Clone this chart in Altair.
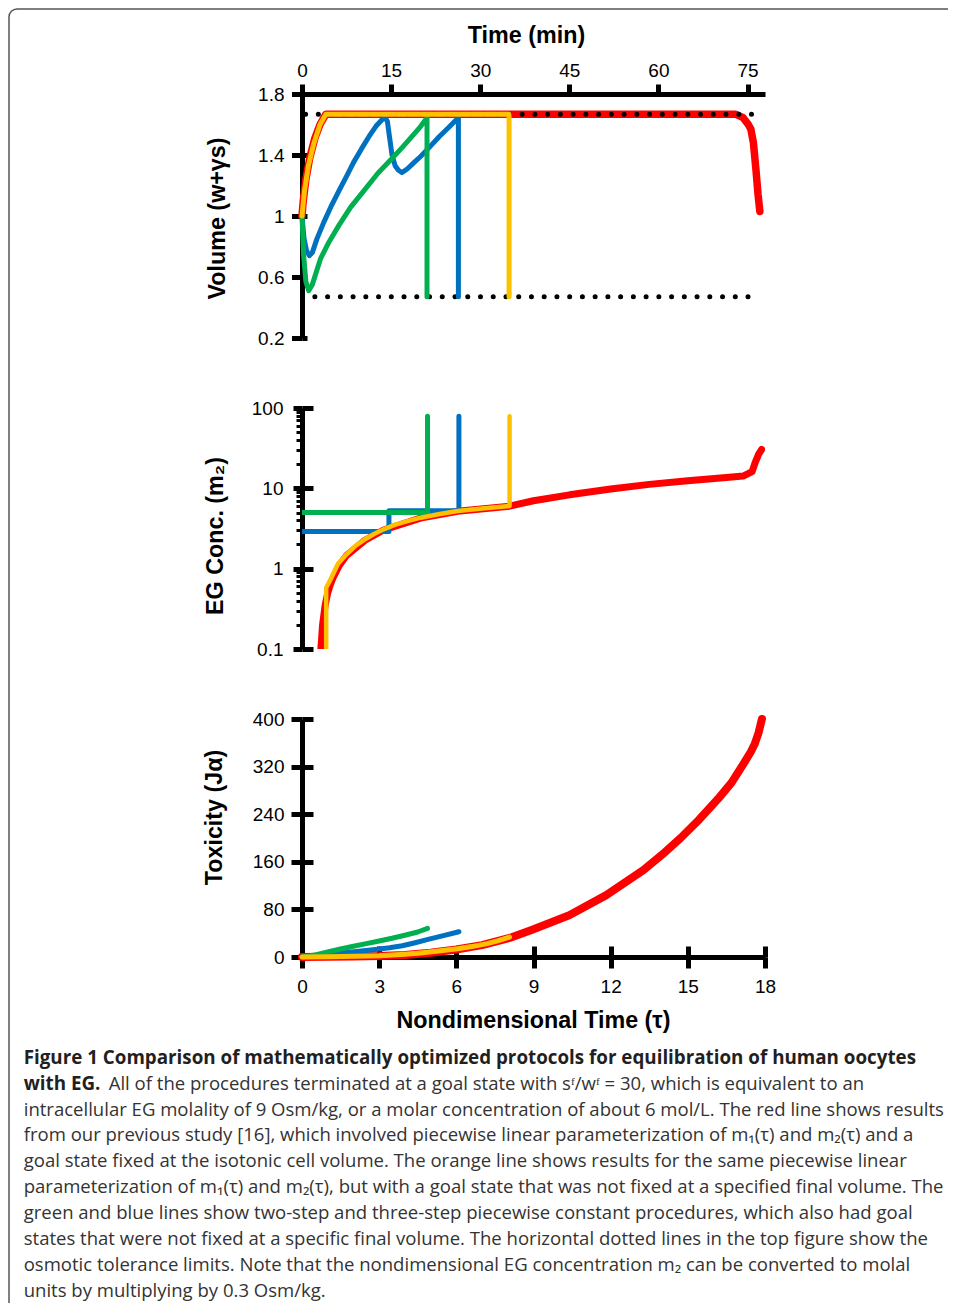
import altair as alt
import pandas as pd

# ---------------- axis ticks ----------------
MIN_PER_TAU = 4.33
MIN_TICKS = [0, 15, 30, 45, 60, 75]
TAU_TICKS = [0, 3, 6, 9, 12, 15, 18]
VOL_TICKS = [0.2, 0.6, 1, 1.4, 1.8]
CONC_MAJOR = [0.1, 1, 10, 100]
CONC_MINOR = [0.2, 0.3, 0.4, 0.5, 0.6, 0.7, 0.8, 0.9,
              2, 3, 4, 5, 6, 7, 8, 9,
              20, 30, 40, 50, 60, 70, 80, 90]
TOX_TICKS = [0, 80, 160, 240, 320, 400]

# osmotic tolerance limits (dotted lines)
TOL_LIMITS = [1.668, 0.47]
TOL_START = [0.14, 0.5]
TOL_END = [17.8, 17.78]

# ---------------- Volume (w + gamma s) ----------------
VOL_RED_T = [0, 0.05, 0.15, 0.3, 0.5, 0.7, 0.93, 16.85, 17.15, 17.35, 17.45, 17.55, 17.65, 17.73, 17.8]
VOL_RED_V = [1.0, 1.1, 1.24, 1.38, 1.51, 1.6, 1.668, 1.668, 1.645, 1.6, 1.57, 1.48, 1.3, 1.14, 1.03]

VOL_ORANGE_T = [0, 0.1, 0.25, 0.45, 0.7, 0.93, 8.05, 8.05]
VOL_ORANGE_V = [1.0, 1.17, 1.33, 1.47, 1.6, 1.668, 1.668, 0.47]

VOL_BLUE_T = [0, 0.08, 0.18, 0.29, 0.4, 0.58, 0.85, 1.15, 1.45, 1.73, 2.0, 2.31, 2.6, 2.88, 3.1, 3.24,
              3.32, 3.4, 3.5, 3.62, 3.75, 3.89, 4.1, 4.35, 4.61, 4.95, 5.33, 5.7, 6.05, 6.08, 6.08]
VOL_BLUE_V = [1.0, 0.85, 0.77, 0.74, 0.76, 0.85, 0.96, 1.07, 1.17, 1.26, 1.35, 1.44, 1.52, 1.59, 1.63, 1.645,
              1.62, 1.52, 1.4, 1.33, 1.3, 1.285, 1.31, 1.35, 1.39, 1.45, 1.52, 1.58, 1.64, 1.645, 0.47]

VOL_GREEN_T = [0, 0.06, 0.15, 0.26, 0.4, 0.72, 1.05, 1.44, 1.9, 2.45, 2.95, 3.46, 3.9, 4.32, 4.6, 4.86, 4.86]
VOL_GREEN_V = [1.0, 0.75, 0.57, 0.51, 0.55, 0.72, 0.83, 0.94, 1.06, 1.175, 1.28, 1.37, 1.45, 1.53, 1.585, 1.645, 0.47]

# ---------------- EG concentration m2 ----------------
CONC_RED_T = [0.7, 0.8, 0.9, 1.0, 1.1, 1.2, 1.45, 1.73, 2.45, 3.17, 4.61, 6.05, 8.07, 9.0, 10.4, 12.0,
              13.5, 15.0, 16.5, 17.15, 17.5, 17.62, 17.75, 17.87]
CONC_RED_V = [0.07, 0.2, 0.35, 0.5, 0.63, 0.76, 1.1, 1.46, 2.26, 3.03, 4.26, 5.17, 6.0, 7.0, 8.3, 9.8,
              11.2, 12.4, 13.6, 14.2, 16.1, 21.0, 26.5, 30.5]

CONC_ORANGE_T = [0.94, 0.94, 1.15, 1.4, 1.73, 2.1, 2.45, 2.8, 3.17, 3.6, 4.1, 4.61, 5.3, 6.05, 7.0, 8.07, 8.07]
CONC_ORANGE_V = [0.05, 0.58, 0.78, 1.15, 1.51, 1.95, 2.32, 2.7, 3.09, 3.5, 3.9, 4.31, 4.75, 5.21, 5.6, 6.03, 79]

CONC_BLUE_T = [0, 3.38, 3.38, 6.1, 6.1]
CONC_BLUE_V = [2.9, 2.9, 5.25, 5.25, 79]

CONC_GREEN_T = [0, 4.88, 4.88]
CONC_GREEN_V = [5.0, 5.0, 79]

# ---------------- Toxicity J_alpha ----------------
TOX_RED_T = [0, 1, 2, 3, 4, 5, 6, 7, 8.07, 8.95, 10.39, 11.83, 13.27, 14.0, 14.72, 15.44, 16.16,
             16.7, 17.17, 17.45, 17.6, 17.75, 17.88]
TOX_RED_V = [0, 0.3, 0.8, 1.6, 3.5, 7, 12.5, 20, 32, 46, 70, 104, 146, 172, 200, 231, 265,
             293, 325, 345, 358, 377, 400]

TOX_ORANGE_T = [0, 1, 2, 3, 4, 4.6, 5.3, 6.05, 6.6, 7.2, 7.6, 8.07]
TOX_ORANGE_V = [0, 0.5, 1.2, 2.2, 4.5, 6.8, 10, 14, 17.5, 22.5, 27, 33.5]

TOX_GREEN_T = [0, 0.3, 0.6, 1.0, 1.5, 2.0, 2.5, 3.0, 3.5, 4.0, 4.5, 4.88]
TOX_GREEN_V = [0, 1.8, 4.5, 8.5, 13.5, 18, 22.5, 27, 31.5, 36.5, 42, 48]

TOX_BLUE_T = [0, 0.5, 1.0, 1.73, 2.5, 3.03, 3.4, 3.9, 4.4, 4.9, 5.5, 6.1]
TOX_BLUE_V = [0, 1.5, 3.5, 7.5, 11, 13.5, 15.5, 19, 24, 29.5, 36, 42.5]

# ---------------- caption ----------------
CAPTION_BOLD = [
    "Figure 1 Comparison of mathematically optimized protocols for equilibration of human oocytes",
    "with EG.",
]
CAPTION_LINE2 = "All of the procedures terminated at a goal state with s\u1da0/w\u1da0 = 30, which is equivalent to an"
CAPTION_REST = [
    "intracellular EG molality of 9 Osm/kg, or a molar concentration of about 6 mol/L. The red line shows results",
    "from our previous study [16], which involved piecewise linear parameterization of m\u2081(\u03c4) and m\u2082(\u03c4) and a",
    "goal state fixed at the isotonic cell volume. The orange line shows results for the same piecewise linear",
    "parameterization of m\u2081(\u03c4) and m\u2082(\u03c4), but with a goal state that was not fixed at a specified final volume. The",
    "green and blue lines show two-step and three-step piecewise constant procedures, which also had goal",
    "states that were not fixed at a specific final volume. The horizontal dotted lines in the top figure show the",
    "osmotic tolerance limits. Note that the nondimensional EG concentration m\u2082 can be converted to molal",
    "units by multiplying by 0.3 Osm/kg.",
]

COLORS = {"red": "#FF0000", "orange": "#FFC000", "green": "#00B050", "blue": "#0070C0"}

# ---------------- styling ----------------
FONT = "Liberation Sans"
CAP_FONT = "Open Sans"
CAP_SIZE = 18.55
CAP_BOLD_SIZE = 18.8
CAP_LH = 25.9
CAP_Y0 = 969.8
W = 463
TITLE_SIZE = 23.3

BASE_AXIS = dict(
    domainColor="black", domainWidth=5, tickColor="black", tickWidth=5,
    labelFont=FONT, labelFontSize=19, labelColor="black", labelOverlap=False, labelFlush=False,
    titleFont=FONT, titleFontSize=TITLE_SIZE, titleFontWeight="bold", titleColor="black",
    titleAlign="center", titleBaseline="middle",
    gridColor="black", gridWidth=5,
)
XS = alt.Scale(domain=[0, 18], nice=False, zero=False)


def df_of(t, v):
    return pd.DataFrame({"tau": t, "val": v, "i": list(range(len(t)))})


def line(t, v, color, width, x, y, clip=False):
    return alt.Chart(df_of(t, v)).mark_line(
        color=COLORS[color], strokeWidth=width, strokeCap="round", strokeJoin="round", clip=clip
    ).encode(x=x, y=y, order="i:Q")


# ---------------- top panel ----------------
x_top = alt.X("tau:Q", scale=XS, axis=alt.Axis(
    orient="top", values=[m / MIN_PER_TAU for m in MIN_TICKS],
    labelExpr=f"format(datum.value * {MIN_PER_TAU}, '.0f')",
    tickSize=10, labelPadding=4, grid=False,
    title="Time (min)", titleX=224, titleY=-59, **BASE_AXIS))
y_top = alt.Y("val:Q", scale=alt.Scale(domain=[0.2, 1.8], nice=False, zero=False), axis=alt.Axis(
    values=VOL_TICKS, format="~g", tickSize=10.5, labelPadding=7.5,
    grid=True, gridDash=[5, 2000],
    title="Volume (w+\u03b3s)", titleX=-85, titleY=124, **BASE_AXIS))

dots = alt.Chart(pd.DataFrame({"tau": TOL_START, "tau2": TOL_END, "val": TOL_LIMITS})).mark_rule(
    color="black", strokeWidth=5, strokeCap="round", strokeDash=[0.01, 12.73]
).encode(x=x_top, x2="tau2:Q", y=y_top)

one = pd.DataFrame({"k": [0]})
# figure frame; its right and bottom edges lie outside the page and are clipped
frame = alt.Chart(one).mark_rect(
    fillOpacity=0, stroke="#555555", strokeWidth=1.5, cornerRadius=8
).encode(x=alt.value(-293), x2=alt.value(700), y=alt.value(-85), y2=alt.value(1250))

cap_bold = alt.Chart(one).mark_text(
    align="left", baseline="alphabetic", font=CAP_FONT, fontSize=CAP_BOLD_SIZE, fontWeight="bold",
    lineHeight=CAP_LH, color="#231f20"
).encode(x=alt.value(-278.3), y=alt.value(CAP_Y0), text=alt.value(CAPTION_BOLD))
cap_l2 = alt.Chart(one).mark_text(
    align="left", baseline="alphabetic", font=CAP_FONT, fontSize=CAP_SIZE,
    color="#333333"
).encode(x=alt.value(-193.3), y=alt.value(CAP_Y0 + CAP_LH), text=alt.value(CAPTION_LINE2))
cap_rest = alt.Chart(one).mark_text(
    align="left", baseline="alphabetic", font=CAP_FONT, fontSize=CAP_SIZE,
    lineHeight=CAP_LH, color="#333333"
).encode(x=alt.value(-278.3), y=alt.value(CAP_Y0 + 2 * CAP_LH), text=alt.value(CAPTION_REST))

top = alt.layer(
    line(VOL_RED_T, VOL_RED_V, "red", 7.5, x_top, y_top),
    dots,
    line(VOL_BLUE_T, VOL_BLUE_V, "blue", 5, x_top, y_top),
    line(VOL_GREEN_T, VOL_GREEN_V, "green", 5, x_top, y_top),
    line(VOL_ORANGE_T, VOL_ORANGE_V, "orange", 5, x_top, y_top),
    frame, cap_bold, cap_l2, cap_rest,
).properties(width=W, height=244)

# ---------------- middle panel ----------------
MAJOR_TEST = "datum.value == 0.1 || datum.value == 1 || datum.value == 10 || datum.value == 100"
mid_axis = dict(BASE_AXIS)
mid_axis["tickWidth"] = {"condition": {"test": MAJOR_TEST, "value": 5}, "value": 3}
x_mid = alt.X("tau:Q", scale=XS, axis=None)
y_mid = alt.Y("val:Q", scale=alt.Scale(type="log", domain=[0.1, 100], nice=False), axis=alt.Axis(
    values=CONC_MAJOR + CONC_MINOR,
    labelExpr=f"({MAJOR_TEST}) ? format(datum.value, '~g') : ''",
    tickSize={"condition": {"test": MAJOR_TEST, "value": 9}, "value": 6},
    labelPadding=10, grid=True, gridDash=[11, 2000],
    gridOpacity={"condition": {"test": MAJOR_TEST, "value": 1}, "value": 0},
    title="EG Conc. (m\u2082)", titleX=-86.5, titleY=127.5, **mid_axis))

mid = alt.layer(
    line(CONC_RED_T, CONC_RED_V, "red", 7, x_mid, y_mid, clip=True),
    line(CONC_BLUE_T, CONC_BLUE_V, "blue", 5, x_mid, y_mid, clip=True),
    line(CONC_GREEN_T, CONC_GREEN_V, "green", 5, x_mid, y_mid, clip=True),
    line(CONC_ORANGE_T, CONC_ORANGE_V, "orange", 4.5, x_mid, y_mid, clip=True),
).properties(width=W, height=241)

# ---------------- bottom panel ----------------
x_bot = alt.X("tau:Q", scale=XS, axis=alt.Axis(
    values=TAU_TICKS, tickSize=11, labelPadding=9, grid=True, gridDash=[0, 227, 11, 3000],
    title="Nondimensional Time (\u03c4)", titleX=231, titleY=63, **BASE_AXIS))
y_bot = alt.Y("val:Q", scale=alt.Scale(domain=[0, 400], nice=False), axis=alt.Axis(
    values=TOX_TICKS, tickSize=11, labelPadding=7, grid=True, gridDash=[11, 2000],
    title="Toxicity (J\u03b1)", titleX=-88, titleY=98, **BASE_AXIS))

bot = alt.layer(
    line(TOX_RED_T, TOX_RED_V, "red", 8, x_bot, y_bot),
    line(TOX_BLUE_T, TOX_BLUE_V, "blue", 5, x_bot, y_bot),
    line(TOX_GREEN_T, TOX_GREEN_V, "green", 5, x_bot, y_bot),
    line(TOX_ORANGE_T, TOX_ORANGE_V, "orange", 5, x_bot, y_bot),
).properties(width=W, height=238)

# negative right/bottom padding trims the svg to 942 x 1297 so that, with the
# 8px page margins, the page fits the 958 x 1313 window exactly
chart = alt.vconcat(
    top, mid, bot, spacing=70, bounds="flush",
    padding={"left": 0, "top": 0, "right": -55, "bottom": -42},
).configure_view(strokeWidth=0)

chart.save("out.html", embed_options={"renderer": "svg", "actions": False})
